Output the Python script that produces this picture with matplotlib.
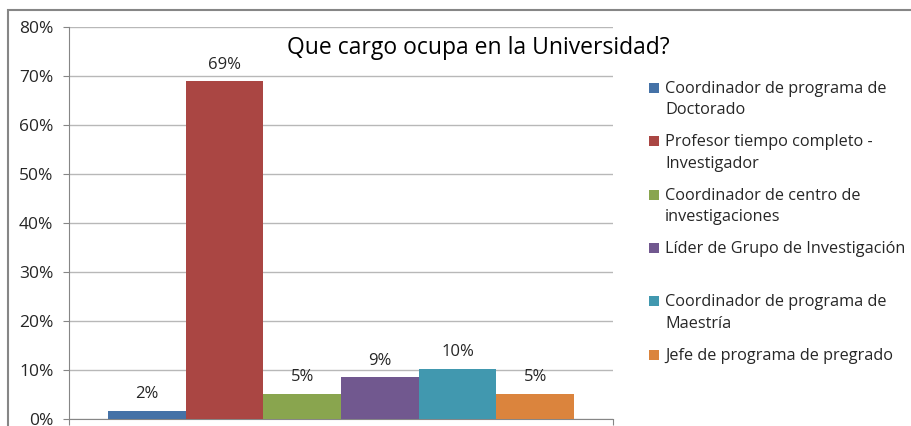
import matplotlib.pyplot as plt
from matplotlib.patches import Rectangle
from matplotlib.ticker import PercentFormatter

plt.rcParams['font.family'] = ['Open Sans', 'DejaVu Sans']

cargos = ['Coordinador de programa de\nDoctorado',
          'Profesor tiempo completo -\nInvestigador',
          'Coordinador de centro de\ninvestigaciones',
          'Líder de Grupo de Investigación',
          'Coordinador de programa de\nMaestría',
          'Jefe de programa de pregrado']
valores = [1.7, 69.0, 5.2, 8.6, 10.3, 5.2]
etiquetas = ['2%', '69%', '5%', '9%', '10%', '5%']
colores = ['#4572A7', '#AA4643', '#89A54E', '#71588F', '#4198AF', '#DB843D']
titulo = 'Que cargo ocupa en la Universidad?'

fig = plt.figure(figsize=(9.12, 4.26), dpi=100)
ax = fig.add_axes([69 / 912, 7 / 426, 544 / 912, 392 / 426])

# marco exterior del grafico
fig.patches.append(Rectangle((8 / 912, -0.1), 1.2, 1.1 - 10 / 426,
                             transform=fig.transFigure, fill=False,
                             edgecolor='#868686', linewidth=1.5))

x = list(range(len(valores)))
ax.bar(x, valores, width=1.0, color=colores, zorder=3)
for xi, v, t in zip(x, valores, etiquetas):
    ax.annotate(t, (xi, v), xytext=(0, 6), textcoords='offset points',
                ha='center', va='bottom', fontsize=12, color='#262626')

ax.set_xlim(-1.0, 6.0)
ax.set_ylim(0, 80)
ax.set_yticks(range(0, 81, 10))
ax.yaxis.set_major_formatter(PercentFormatter(decimals=0))
ax.set_xticks([-1.0, 6.0])
ax.set_xticklabels([])
ax.tick_params(axis='x', length=4.3, color='#868686', direction='out')
ax.tick_params(axis='y', length=4.3, color='#868686', labelsize=12.5,
               labelcolor='#262626', pad=7)
ax.grid(axis='y', color='#B8B8B8', linewidth=1, zorder=0)
for s in ['top', 'right']:
    ax.spines[s].set_visible(False)
for s in ['left', 'bottom']:
    ax.spines[s].set_color('#868686')

fig.text(478 / 912, 1 - 48 / 426, titulo, ha='center', va='center',
         fontsize=16.5, color='black')

# leyenda: cuadro de color alineado con la primera linea de cada texto
y0, paso = 88, 53.3
for i, (c, lab) in enumerate(zip(colores, cargos)):
    yc = 1 - (y0 + i * paso) / 426
    fig.patches.append(Rectangle((649 / 912, yc - 5 / 426), 10 / 912, 10 / 426,
                                 transform=fig.transFigure, facecolor=c,
                                 edgecolor='none'))
    fig.text(665 / 912, yc + 7 / 426, lab, ha='left', va='top',
             fontsize=11.7, color='#262626', linespacing=1.45)

fig.savefig('out.png', dpi=100)
